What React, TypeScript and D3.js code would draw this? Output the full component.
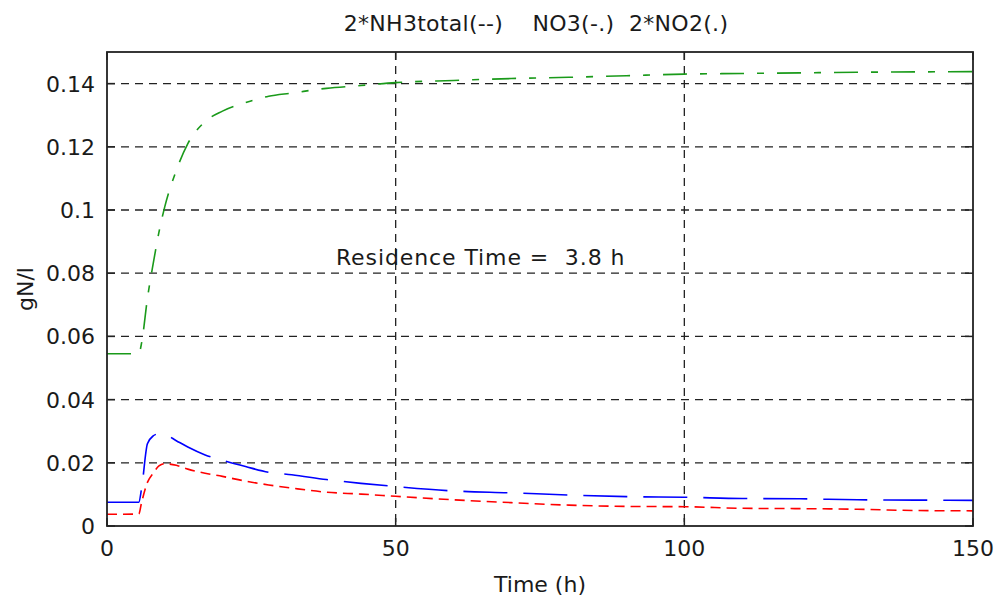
import * as d3 from "d3"
import { useEffect } from "react"

// sample times (h) and the three curves
const time = [0, 5.5, 6, 7, 8, 9, 10, 12, 14, 17, 20, 24, 28, 32, 38, 44, 50, 60, 70, 80, 90, 100, 110, 120, 130, 140, 150]
const no3 = [0.0545, 0.0545, 0.058, 0.072, 0.083, 0.093, 0.101, 0.1125, 0.121, 0.128, 0.1313, 0.134, 0.136, 0.137, 0.1385, 0.1394, 0.1403, 0.141, 0.1416, 0.142, 0.1425, 0.143, 0.1432, 0.1434, 0.1436, 0.1437, 0.1438]
const nh3 = [0.0075, 0.0075, 0.012, 0.026, 0.0285, 0.0292, 0.029, 0.027, 0.025, 0.0225, 0.0208, 0.0188, 0.017, 0.0162, 0.0147, 0.0135, 0.0125, 0.0111, 0.0105, 0.0098, 0.0093, 0.0091, 0.0087, 0.0086, 0.0083, 0.0082, 0.0081]
const no2 = [0.0037, 0.0038, 0.0075, 0.0138, 0.0167, 0.019, 0.0197, 0.0192, 0.018, 0.0167, 0.0157, 0.0142, 0.013, 0.012, 0.0107, 0.0101, 0.0094, 0.0083, 0.0074, 0.0066, 0.0062, 0.0061, 0.0056, 0.0055, 0.0053, 0.0049, 0.0048]

const xTicks = [0, 50, 100, 150]
const yTicks = [0, 0.02, 0.04, 0.06, 0.08, 0.1, 0.12, 0.14]

const series = [
  { name: "NO3", values: no3, color: "#1a9a1a", dash: "24,13,7,13" },
  { name: "NH3", values: nh3, color: "#0000ff", dash: "44,16" },
  { name: "NO2", values: no2, color: "#ff0000", dash: "10,6" },
]

const W = 997
const H = 606
const margin = { top: 52, right: 24, bottom: 80, left: 107 }
const font = "'DejaVu Sans', sans-serif"

export default function App() {
  useEffect(() => {
    const svg = d3.select("#chart")
    svg.selectAll("*").remove()

    const x = d3.scaleLinear().domain([0, 150]).range([margin.left, W - margin.right])
    const y = d3.scaleLinear().domain([0, 0.15]).range([H - margin.bottom, margin.top])
    const [x0, x1] = x.range()
    const [y0, y1] = y.range()

    svg.append("rect").attr("width", W).attr("height", H).attr("fill", "#fff")

    // grid
    const grid = svg.append("g").attr("stroke", "#222").attr("stroke-width", 1.3).attr("stroke-dasharray", "8,6")
    xTicks.slice(1, -1).forEach(t => {
      grid.append("line").attr("x1", x(t)).attr("x2", x(t)).attr("y1", y1).attr("y2", y0)
    })
    yTicks.slice(1).forEach(t => {
      grid.append("line").attr("x1", x0).attr("x2", x1).attr("y1", y(t)).attr("y2", y(t))
    })

    // curves
    series.forEach(s => {
      const line = d3.line<number>()
        .x((_, i) => x(time[i]))
        .y(d => y(d))
        .curve(d3.curveMonotoneX)
      svg.append("path")
        .datum(s.values)
        .attr("d", line)
        .attr("fill", "none")
        .attr("stroke", s.color)
        .attr("stroke-width", 1.6)
        .attr("stroke-dasharray", s.dash)
    })

    // box + inward ticks
    svg.append("rect")
      .attr("x", x0).attr("y", y1).attr("width", x1 - x0).attr("height", y0 - y1)
      .attr("fill", "none").attr("stroke", "#222").attr("stroke-width", 1.8)
    const tk = svg.append("g").attr("stroke", "#222").attr("stroke-width", 1.5)
    xTicks.forEach(t => {
      tk.append("line").attr("x1", x(t)).attr("x2", x(t)).attr("y1", y0).attr("y2", y0 - 8)
      tk.append("line").attr("x1", x(t)).attr("x2", x(t)).attr("y1", y1).attr("y2", y1 + 8)
    })
    yTicks.forEach(t => {
      tk.append("line").attr("x1", x0).attr("x2", x0 + 8).attr("y1", y(t)).attr("y2", y(t))
      tk.append("line").attr("x1", x1).attr("x2", x1 - 8).attr("y1", y(t)).attr("y2", y(t))
    })

    const txt = svg.append("g").attr("font-family", font).attr("font-size", 22).attr("fill", "#1a1a1a")
    xTicks.forEach(t => {
      txt.append("text").attr("x", x(t)).attr("y", y0 + 30).attr("text-anchor", "middle").text(String(t))
    })
    yTicks.forEach(t => {
      txt.append("text").attr("x", x0 - 12).attr("y", y(t) + 8).attr("text-anchor", "end").text(String(t))
    })

    txt.append("text").attr("x", (x0 + x1) / 2).attr("y", H - 14).attr("text-anchor", "middle").text("Time (h)")
    txt.append("text")
      .attr("transform", `translate(33,${(y0 + y1) / 2}) rotate(-90)`)
      .attr("text-anchor", "middle").text("gN/l")
    txt.append("text").attr("x", (x0 + x1) / 2 - 4).attr("y", 31).attr("text-anchor", "middle")
      .attr("letter-spacing", 0.3)
      .style("white-space", "pre").text("2*NH3total(--)    NO3(-.)  2*NO2(.)")
    txt.append("text").attr("x", x(40) - 2).attr("y", y(0.085) + 8)
      .attr("letter-spacing", 0.9)
      .style("white-space", "pre").text("Residence Time =  3.8 h")
  }, [])

  return (
    <svg id="chart" width={W} height={H} style={{ position: "absolute", left: 0, top: 0 }} />
  )
}
